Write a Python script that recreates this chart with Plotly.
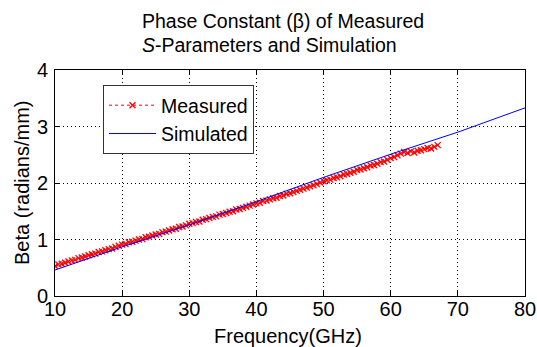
import plotly.graph_objects as go

# Simulated phase constant (radians/mm) vs frequency (GHz)
sim_freq = [10, 20, 30, 40, 50, 60, 70, 80]
sim_beta = [0.46, 0.87, 1.26, 1.67, 2.10, 2.51, 2.90, 3.33]

# Measured phase constant, 0.5 GHz steps from 10 to 67 GHz
meas_freq = [10 + 0.5 * i for i in range(115)]
meas_beta = [
    0.53, 0.56, 0.57, 0.59, 0.61, 0.63, 0.64, 0.67, 0.68, 0.70,
    0.72, 0.74, 0.75, 0.78, 0.79, 0.81, 0.83, 0.84, 0.87, 0.89,
    0.91, 0.92, 0.95, 0.96, 0.98, 1.00, 1.01, 1.04, 1.05, 1.07,
    1.09, 1.10, 1.13, 1.14, 1.16, 1.18, 1.19, 1.22, 1.23, 1.25,
    1.28, 1.29, 1.31, 1.32, 1.35, 1.36, 1.38, 1.40, 1.41, 1.44,
    1.45, 1.47, 1.49, 1.50, 1.53, 1.54, 1.56, 1.58, 1.60, 1.62,
    1.64, 1.65, 1.68, 1.69, 1.71, 1.73, 1.74, 1.77, 1.78, 1.81,
    1.82, 1.84, 1.86, 1.88, 1.90, 1.92, 1.94, 1.96, 1.98, 2.01,
    2.03, 2.05, 2.06, 2.09, 2.10, 2.12, 2.15, 2.16, 2.18, 2.20,
    2.23, 2.24, 2.26, 2.28, 2.31, 2.32, 2.34, 2.37, 2.38, 2.41,
    2.44, 2.46, 2.49, 2.52, 2.55, 2.53, 2.56, 2.54, 2.57, 2.58,
    2.60, 2.62, 2.61, 2.64, 2.67,
]

x_ticks = [10, 20, 30, 40, 50, 60, 70, 80]
y_ticks = [0, 1, 2, 3, 4]

FONT = "Liberation Sans, Arial, sans-serif"
L, R, T, B = 55, 12, 70, 51
W, H = 537, 347
pw, ph = W - L - R, H - T - B


def px_x(p):
    return (p - L) / pw


def px_y(p):
    return (H - B - p) / ph


fig = go.Figure()
fig.add_trace(go.Scatter(
    x=meas_freq, y=meas_beta, name="Measured", mode="lines+markers",
    line=dict(color="red", width=1, dash="dot"),
    marker=dict(symbol="x-thin", size=6, color="red",
                line=dict(color="red", width=1.3)),
))
fig.add_trace(go.Scatter(
    x=sim_freq, y=sim_beta, name="Simulated", mode="lines",
    line=dict(color="blue", width=1),
))

axis_common = dict(
    showline=True, linecolor="black", linewidth=1, mirror="ticks",
    ticks="inside", ticklen=5, tickcolor="black",
    showgrid=True, gridcolor="black", griddash="1px,3px", gridwidth=1,
    zeroline=False, automargin=False,
    tickfont=dict(size=20, color="black", family=FONT),
)

txt = dict(xref="paper", yref="paper", showarrow=False)

fig.update_layout(
    width=W, height=H,
    margin=dict(l=L, r=R, t=T, b=B),
    paper_bgcolor="white", plot_bgcolor="white",
    font=dict(family=FONT, color="black"),
    showlegend=True,
    legend=dict(
        x=px_x(103), y=px_y(85), xanchor="left", yanchor="top",
        bgcolor="white", bordercolor="#333", borderwidth=1,
        font=dict(size=19.5, color="black", family=FONT),
        tracegroupgap=0, itemwidth=47,
    ),
    xaxis=dict(range=[10, 80], tickvals=x_ticks, ticklabelstandoff=-5,
               **axis_common),
    yaxis=dict(range=[0, 4], tickvals=y_ticks, ticklabelstandoff=2,
               **axis_common),
    annotations=[
        dict(text="Phase Constant (β) of Measured",
             x=px_x(140), y=px_y(8), xanchor="left", yanchor="top",
             font=dict(size=19.5, color="black", family=FONT), **txt),
        dict(text="<i>S</i>-Parameters and Simulation",
             x=px_x(140), y=px_y(32), xanchor="left", yanchor="top",
             font=dict(size=19.5, color="black", family=FONT), **txt),
        dict(text="Frequency(GHz)",
             x=px_x(288), y=px_y(336), xanchor="center", yanchor="middle",
             font=dict(size=20, color="black", family=FONT), **txt),
        dict(text="Beta (radians/mm)", textangle=-90,
             x=px_x(22), y=px_y(183), xanchor="center", yanchor="middle",
             font=dict(size=20, color="black", family=FONT), **txt),
    ],
)

fig.write_html("out.html")
